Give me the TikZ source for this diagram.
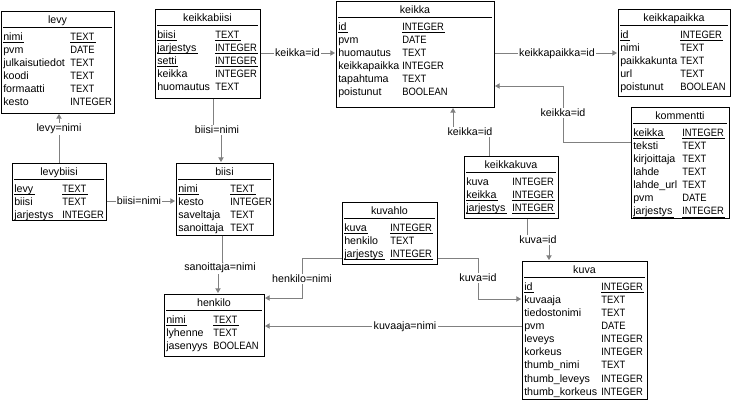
\documentclass[tikz,border=0pt]{standalone}
\usepackage{fontspec}
\usetikzlibrary{arrows.meta,fit}

\newfontfamily\tblfont{Liberation Sans}
\newfontfamily\typfont[FakeStretch=0.88]{Liberation Sans}
\newcommand\pk[1]{\underline{\smash{#1}\kern1pt}}
\definecolor{linkgray}{HTML}{808080}

\tikzset{
  tbl/.style={draw=black, line width=0.75pt, fill=white, inner sep=0pt},
  ttl/.style={anchor=base, inner sep=0pt, font=\tblfont\fontsize{8pt}{10pt}\selectfont},
  fld/.style={anchor=base west, inner sep=0pt, font=\tblfont\fontsize{8pt}{10pt}\selectfont},
  typ/.style={anchor=base west, inner sep=0pt, font=\typfont\fontsize{8pt}{10pt}\selectfont},
  sep/.style={draw=black, line width=0.75pt},
  link/.style={draw=linkgray, line width=0.75pt},
  arr/.style={-{Triangle[width=4pt,length=3.5pt]}, shorten >=0.4pt},
  rel/.style={anchor=base, fill=white, inner sep=1pt, font=\tblfont\fontsize{8pt}{10pt}\selectfont}
}

\begin{document}
\begin{tikzpicture}[x=0.75pt, y=-0.75pt]
\useasboundingbox (0,0) rectangle (732,400);

% levy
\node[tbl, fit={(1,11) (114,113)}] (levy) {};
\node[ttl] (levy-ttl) at (57.5,23.8) {levy};
\draw[sep] (3,27) -- (112,27);
\foreach \n/\t [count=\i from 0] in {\pk{nimi}/\pk{TEXT}, pvm/DATE, julkaisutiedot/TEXT, koodi/TEXT, formaatti/TEXT, kesto/INTEGER} {
  \node[fld] (levy-n\i) at (3,40.3+13.1*\i) {\n};
  \node[typ] (levy-t\i) at (70,40.3+13.1*\i) {\t};
}

% keikkabiisi
\node[tbl, fit={(155,9) (260,98)}] (keikkabiisi) {};
\node[ttl] (keikkabiisi-ttl) at (207.5,21.8) {keikkabiisi};
\draw[sep] (157,25) -- (258,25);
\foreach \n/\t [count=\i from 0] in {\pk{biisi}/\pk{TEXT}, \pk{jarjestys}/\pk{INTEGER}, \pk{setti}/\pk{INTEGER}, keikka/INTEGER, huomautus/TEXT} {
  \node[fld] (keikkabiisi-n\i) at (157,38.3+13.1*\i) {\n};
  \node[typ] (keikkabiisi-t\i) at (215,38.3+13.1*\i) {\t};
}

% keikka
\node[tbl, fit={(336,1) (494,107)}] (keikka) {};
\node[ttl] (keikka-ttl) at (415,13.8) {keikka};
\draw[sep] (338,17) -- (492,17);
\foreach \n/\t [count=\i from 0] in {\pk{id}/\pk{INTEGER}, pvm/DATE, huomautus/TEXT, keikkapaikka/INTEGER, tapahtuma/TEXT, poistunut/BOOLEAN} {
  \node[fld] (keikka-n\i) at (338,30.3+13.1*\i) {\n};
  \node[typ] (keikka-t\i) at (402,30.3+13.1*\i) {\t};
}

% keikkapaikka
\node[tbl, fit={(618,9) (730,96)}] (keikkapaikka) {};
\node[ttl] (keikkapaikka-ttl) at (674,21.8) {keikkapaikka};
\draw[sep] (620,25) -- (728,25);
\foreach \n/\t [count=\i from 0] in {\pk{id}/\pk{INTEGER}, nimi/TEXT, paikkakunta/TEXT, url/TEXT, poistunut/BOOLEAN} {
  \node[fld] (keikkapaikka-n\i) at (620,38.3+13.1*\i) {\n};
  \node[typ] (keikkapaikka-t\i) at (680,38.3+13.1*\i) {\t};
}

% kommentti
\node[tbl, fit={(631,107) (729,218)}] (kommentti) {};
\node[ttl] (kommentti-ttl) at (680,119.8) {kommentti};
\draw[sep] (633,123) -- (727,123);
\foreach \n/\t [count=\i from 0] in {\pk{keikka}/\pk{INTEGER}, teksti/TEXT, kirjoittaja/TEXT, lahde/TEXT, lahde\_url/TEXT, pvm/DATE, \pk{jarjestys}/\pk{INTEGER}} {
  \node[fld] (kommentti-n\i) at (633,136.3+13.1*\i) {\n};
  \node[typ] (kommentti-t\i) at (682,136.3+13.1*\i) {\t};
}

% keikkakuva
\node[tbl, fit={(464,156) (558,218)}] (keikkakuva) {};
\node[ttl] (keikkakuva-ttl) at (511,168.8) {keikkakuva};
\draw[sep] (466,172) -- (556,172);
\foreach \n/\t [count=\i from 0] in {kuva/INTEGER, \pk{keikka}/\pk{INTEGER}, \pk{jarjestys}/\pk{INTEGER}} {
  \node[fld] (keikkakuva-n\i) at (466,185.3+13.1*\i) {\n};
  \node[typ] (keikkakuva-t\i) at (512,185.3+13.1*\i) {\t};
}

% levybiisi
\node[tbl, fit={(12,163) (106,220)}] (levybiisi) {};
\node[ttl] (levybiisi-ttl) at (59,175.8) {levybiisi};
\draw[sep] (14,179) -- (104,179);
\foreach \n/\t [count=\i from 0] in {\pk{levy}/\pk{TEXT}, biisi/TEXT, \pk{jarjestys}/\pk{INTEGER}} {
  \node[fld] (levybiisi-n\i) at (14,192.3+13.1*\i) {\n};
  \node[typ] (levybiisi-t\i) at (62,192.3+13.1*\i) {\t};
}

% biisi
\node[tbl, fit={(176,163) (273,235)}] (biisi) {};
\node[ttl] (biisi-ttl) at (224.5,175.8) {biisi};
\draw[sep] (178,179) -- (271,179);
\foreach \n/\t [count=\i from 0] in {\pk{nimi}/\pk{TEXT}, kesto/INTEGER, saveltaja/TEXT, sanoittaja/TEXT} {
  \node[fld] (biisi-n\i) at (178,192.3+13.1*\i) {\n};
  \node[typ] (biisi-t\i) at (230,192.3+13.1*\i) {\t};
}

% kuvahlo
\node[tbl, fit={(342,202) (437,264)}] (kuvahlo) {};
\node[ttl] (kuvahlo-ttl) at (389.5,214.8) {kuvahlo};
\draw[sep] (344,218) -- (435,218);
\foreach \n/\t [count=\i from 0] in {\pk{kuva}/\pk{INTEGER}, henkilo/TEXT, \pk{jarjestys}/\pk{INTEGER}} {
  \node[fld] (kuvahlo-n\i) at (344,231.3+13.1*\i) {\n};
  \node[typ] (kuvahlo-t\i) at (390,231.3+13.1*\i) {\t};
}

% henkilo
\node[tbl, fit={(164,294) (264,356)}] (henkilo) {};
\node[ttl] (henkilo-ttl) at (214,306.8) {henkilo};
\draw[sep] (166,310) -- (262,310);
\foreach \n/\t [count=\i from 0] in {\pk{nimi}/\pk{TEXT}, lyhenne/TEXT, jasenyys/BOOLEAN} {
  \node[fld] (henkilo-n\i) at (166,323.3+13.1*\i) {\n};
  \node[typ] (henkilo-t\i) at (213,323.3+13.1*\i) {\t};
}

% kuva
\node[tbl, fit={(522,261) (647,399)}] (kuva) {};
\node[ttl] (kuva-ttl) at (584.5,273.8) {kuva};
\draw[sep] (524,277) -- (645,277);
\foreach \n/\t [count=\i from 0] in {\pk{id}/\pk{INTEGER}, kuvaaja/TEXT, tiedostonimi/TEXT, pvm/DATE, leveys/INTEGER, korkeus/INTEGER, thumb\_nimi/TEXT, thumb\_leveys/INTEGER, thumb\_korkeus/INTEGER} {
  \node[fld] (kuva-n\i) at (524,290.3+13.1*\i) {\n};
  \node[typ] (kuva-t\i) at (601,290.3+13.1*\i) {\t};
}

% connectors
\draw[link, arr] (levybiisi.north) -- (levybiisi.north |- levy.south);
\draw[link, arr] (levybiisi.east |- 0,201) -- (biisi.west |- 0,201);
\draw[link, arr] (keikkabiisi.south -| 213,0) -- (213,130) -| (biisi.north -| 221,0);
\draw[link, arr] (keikkabiisi.east |- 0,53) -- (keikka.west |- 0,53);
\draw[link, arr] (keikka.east |- 0,53) -- (keikkapaikka.west |- 0,53);
\draw[link, arr] (kommentti.west |- 0,142) -| (563,86) -- (keikka.east |- 0,86);
\draw[link, arr] (keikkakuva.north -| 489,0) -- (489,132) -| (keikka.south -| 453,0);
\draw[link, arr] (keikkakuva.south -| 527,0) -- (527,240) -| (kuva.north -| 549,0);
\draw[link, arr] (kuvahlo.east |- 0,258) -| (478,299) -- (kuva.west |- 0,299);
\draw[link, arr] (kuvahlo.west |- 0,258) -| (302,298) -- (henkilo.east |- 0,298);
\draw[link, arr] (biisi.south -| 222,0) -- (222,267) -| (henkilo.north -| 218,0);
\draw[link, arr] (kuva.west |- 0,326) -- (henkilo.east |- 0,326);

\node[rel] (r-levy) at (59,131.8) {levy=nimi};
\node[rel] (r-biisi1) at (139,204.8) {biisi=nimi};
\node[rel] (r-biisi2) at (217,133.8) {biisi=nimi};
\node[rel] (r-keikka1) at (297.5,56.8) {keikka=id};
\node[rel] (r-paikka) at (557,56.8) {keikkapaikka=id};
\node[rel] (r-keikka2) at (563,116.8) {keikka=id};
\node[rel] (r-keikka3) at (470,135.8) {keikka=id};
\node[rel] (r-kuva1) at (538,243.8) {kuva=id};
\node[rel] (r-kuva2) at (478,281.8) {kuva=id};
\node[rel] (r-henkilo) at (302,282.8) {henkilo=nimi};
\node[rel] (r-sanoittaja) at (220,270.8) {sanoittaja=nimi};
\node[rel] (r-kuvaaja) at (405,329.8) {kuvaaja=nimi};

\end{tikzpicture}
\end{document}
